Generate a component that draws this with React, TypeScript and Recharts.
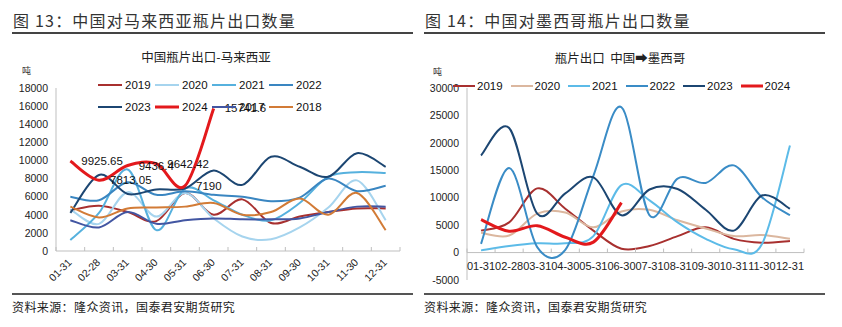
import React from "react";
import { LineChart, Line, XAxis, YAxis, Legend, LabelList, ReferenceLine } from "recharts";

const months = ["01-31", "02-28", "03-31", "04-30", "05-31", "06-30", "07-31", "08-31", "09-30", "10-31", "11-30", "12-31"];

// 图13 马来西亚（吨）
const my2019 = [4500, 5000, 4300, 3300, 6400, 4000, 5700, 3100, 3800, 4300, 4700, 4700];
const my2020 = [4600, 3000, 6500, 3800, 6400, 3600, 1600, 1300, 2600, 4800, 7800, 3400];
const my2021 = [1200, 4200, 9000, 2300, 6900, 5600, 4000, 3400, 5300, 8200, 8700, 8600];
const my2022 = [6000, 5600, 7600, 6200, 6600, 6200, 6000, 5500, 5900, 8000, 6600, 7200];
const my2023 = [4200, 8400, 6300, 6800, 6900, 8900, 7300, 10400, 9300, 8200, 10800, 9300];
const my2024 = [9925.65, 7813.05, 9436.4, 9642.42, 7190, 15741.6];
const my2017 = [3400, 2600, 4300, 3000, 3400, 3600, 3500, 3500, 3600, 4300, 4900, 4900];
const my2018 = [4900, 3700, 4700, 4800, 4900, 5300, 4000, 4300, 5800, 4000, 6400, 2300];
const myTicks = [0, 2000, 4000, 6000, 8000, 10000, 12000, 14000, 16000, 18000];

// 图14 墨西哥（吨）
const mx2019 = [4000, 5500, 11700, 8000, 4000, 700, 1200, 3000, 4600, 2500, 1800, 2100];
const mx2020 = [3600, 3100, 7100, 7300, 4600, 7500, 7800, 5900, 4400, 3000, 3200, 2500];
const mx2021 = [400, 1200, 1700, 1700, 3000, 12300, 9500, 5500, 2500, 600, 1500, 19500];
const mx2022 = [1600, 15400, 1000, 500, 14000, 26500, 6800, 13500, 12700, 15900, 10100, 6800];
const mx2023 = [17700, 22700, 7100, 10800, 13700, 6800, 11500, 11600, 7800, 4000, 10400, 8000];
const mx2024 = [6000, 3900, 4900, 2800, 1900, 9100];
const mxTicks = [-5000, 0, 5000, 10000, 15000, 20000, 25000, 30000];

const myYears = ["2019", "2020", "2021", "2022", "2023", "2024", "2017", "2018"];
const mxYears = ["2019", "2020", "2021", "2022", "2023", "2024"];

const myColors: Record<string, string> = {
  "2019": "#a8302f", "2020": "#a6d4ee", "2021": "#56b1de", "2022": "#3a86c1",
  "2023": "#1c4672", "2024": "#e3191c", "2017": "#4256a2", "2018": "#d27b36",
};
const mxColors: Record<string, string> = {
  "2019": "#a8302f", "2020": "#dbb79f", "2021": "#5cbbe8", "2022": "#3a8cc6",
  "2023": "#1c4672", "2024": "#e3191c",
};

const myRows = months.map((m, i) => ({
  month: m,
  y2019: my2019[i], y2020: my2020[i], y2021: my2021[i], y2022: my2022[i],
  y2023: my2023[i], y2024: my2024[i], y2017: my2017[i], y2018: my2018[i],
}));
const mxRows = months.map((m, i) => ({
  month: m,
  y2019: mx2019[i], y2020: mx2020[i], y2021: mx2021[i], y2022: mx2022[i],
  y2023: mx2023[i], y2024: mx2024[i],
}));

const NUM_FONT = "'Liberation Sans', Arial, sans-serif";
const CJK_FONT = "'Noto Sans CJK SC', 'Noto Sans', sans-serif";
const AXIS = "#bfbfbf";

// excel-like smoothed line (catmull-rom)
function excelSmooth(context: any) {
  let pts: number[][] = [];
  return {
    areaStart() {},
    areaEnd() {},
    lineStart() { pts = []; },
    point(x: number, y: number) { pts.push([+x, +y]); },
    lineEnd() {
      if (!pts.length) return;
      context.moveTo(pts[0][0], pts[0][1]);
      if (pts.length === 1) { context.lineTo(pts[0][0], pts[0][1]); return; }
      for (let i = 0; i < pts.length - 1; i++) {
        const p0 = pts[i - 1] || pts[i];
        const p1 = pts[i];
        const p2 = pts[i + 1];
        const p3 = pts[i + 2] || p2;
        context.bezierCurveTo(
          p1[0] + (p2[0] - p0[0]) / 6, p1[1] + (p2[1] - p0[1]) / 6,
          p2[0] - (p3[0] - p1[0]) / 6, p2[1] - (p3[1] - p1[1]) / 6,
          p2[0], p2[1]
        );
      }
    },
  };
}

// left chart geometry
const MY_W = 420, MY_H = 327;
const MY_M = { top: 88, right: 20, bottom: 36, left: 6 };
const MY_YW = 50, MY_XH = 40;
const MY_PW = MY_W - MY_M.left - MY_M.right - MY_YW;
const MY_BAND = MY_PW / months.length;

// right chart geometry
const MX_W = 422, MX_H = 327;
const MX_M = { top: 88, right: 38, bottom: 27, left: 2 };
const MX_YW = 45, MX_XH = 20;
const MX_PW = MX_W - MX_M.left - MX_M.right - MX_YW;
const MX_PH = MX_H - MX_M.top - MX_M.bottom - MX_XH;
const MX_BAND = MX_PW / months.length;

function MyTick(props: any) {
  const { x, y, payload, index } = props;
  const band = MY_BAND;
  const tx = x + 2, ty = y + 12;
  return (
    <g>
      <line x1={x - band / 2} y1={y - 4} x2={x - band / 2} y2={y} stroke={AXIS} />
      {index === months.length - 1 && <line x1={x + band / 2} y1={y - 4} x2={x + band / 2} y2={y} stroke={AXIS} />}
      <text x={tx} y={ty} transform={`rotate(-45 ${tx} ${ty})`} textAnchor="end" fontSize={10.5} fill="#222" fontFamily={NUM_FONT}>
        {payload.value}
      </text>
    </g>
  );
}

function MxTick(props: any) {
  const { x, y, payload, index } = props;
  const band = MX_BAND;
  const zeroY = y - (MX_PH * 5000) / 35000;
  return (
    <g>
      <line x1={x - band / 2} y1={zeroY - 4} x2={x - band / 2} y2={zeroY} stroke={AXIS} />
      {index === months.length - 1 && <line x1={x + band / 2} y1={zeroY - 4} x2={x + band / 2} y2={zeroY} stroke={AXIS} />}
      <text x={x} y={zeroY + 17} textAnchor="middle" fontSize={11} fill="#222" fontFamily={NUM_FONT}>
        {payload.value}
      </text>
    </g>
  );
}

function legendContent(years: string[], colors: Record<string, string>, itemW: number, lineW: number) {
  return () => (
    <div style={{ display: "flex", flexWrap: "wrap", width: itemW * 4 + 4 }}>
      {years.map((yr) => (
        <div key={yr} style={{ width: itemW, height: 22, display: "flex", alignItems: "center" }}>
          <svg width={lineW} height={4} style={{ marginRight: 3 }}>
            <line x1={0} y1={2} x2={lineW} y2={2} stroke={colors[yr]} strokeWidth={yr === "2024" ? 3 : 2} />
          </svg>
          <span style={{ fontSize: 11.5, fontFamily: NUM_FONT, color: "#111" }}>{yr}</span>
        </div>
      ))}
    </div>
  );
}

function mxLegend() {
  return (
    <div style={{ display: "flex", width: 360 }}>
      {mxYears.map((yr) => (
        <div key={yr} style={{ width: 57.5, height: 22, display: "flex", alignItems: "center" }}>
          <svg width={22} height={4} style={{ marginRight: 2 }}>
            <line x1={0} y1={2} x2={22} y2={2} stroke={mxColors[yr]} strokeWidth={yr === "2024" ? 3 : 2} />
          </svg>
          <span style={{ fontSize: 11.5, fontFamily: NUM_FONT, color: "#111" }}>{yr}</span>
        </div>
      ))}
    </div>
  );
}

function renderLabel(props: any) {
  const { x, y, value } = props;
  if (value === undefined || value === null) return null;
  return (
    <text x={x + 11} y={y} dy="0.35em" fontSize={11.5} fill="#111" fontFamily={NUM_FONT}>
      {String(value)}
    </text>
  );
}

const tickStyle = { fontSize: 10.5, fill: "#222", fontFamily: NUM_FONT };

export default function App() {
  return (
    <div style={{ position: "absolute", left: 0, top: 0, width: 842, height: 327, background: "#fff", overflow: "hidden", fontFamily: CJK_FONT }}>
      {/* headings */}
      <div style={{ position: "absolute", left: 13, top: 8, fontSize: 16, letterSpacing: 1.2, color: "#333", whiteSpace: "nowrap" }}>
        图 13：中国对马来西亚瓶片出口数量
      </div>
      <div style={{ position: "absolute", left: 12, top: 32, width: 401, height: 2, background: "#444" }} />
      <div style={{ position: "absolute", left: 425, top: 8, fontSize: 16, letterSpacing: 1.2, color: "#333", whiteSpace: "nowrap" }}>
        图 14：中国对墨西哥瓶片出口数量
      </div>
      <div style={{ position: "absolute", left: 424, top: 32, width: 401, height: 2, background: "#444" }} />

      {/* left chart */}
      <div style={{ position: "absolute", left: 0, top: 0, width: MY_W, height: MY_H }}>
        <div style={{ position: "absolute", left: 0, width: 412, top: 47, textAlign: "center", fontSize: 12.5, color: "#222" }}>
          中国瓶片出口-马来西亚
        </div>
        <div style={{ position: "absolute", left: 22, top: 64, fontSize: 9, color: "#333" }}>吨</div>
        <LineChart width={MY_W} height={MY_H} data={myRows} margin={MY_M}>
          <XAxis dataKey="month" interval={0} height={MY_XH} padding={{ left: MY_BAND / 2, right: MY_BAND / 2 }} tickSize={0} tickMargin={0} tickLine={false} axisLine={{ stroke: AXIS }} tick={<MyTick />} />
          <YAxis width={MY_YW} domain={[0, 18000]} ticks={myTicks} interval={0} tickLine={false} axisLine={{ stroke: AXIS }} tick={tickStyle} />
          <Legend layout="horizontal" verticalAlign="middle" align="center" content={legendContent(myYears, myColors, 57, 24)} wrapperStyle={{ position: "absolute", left: 98, top: 74, width: 240, height: 44 }} />
          {myYears.filter((y) => y !== "2024").map((yr) => (
            <Line key={yr} dataKey={`y${yr}`} type={excelSmooth as any} stroke={myColors[yr]} strokeWidth={2} dot={false} isAnimationActive={false} />
          ))}
          <Line dataKey="y2024" type={excelSmooth as any} stroke={myColors["2024"]} strokeWidth={3} dot={false} isAnimationActive={false}>
            <LabelList dataKey="y2024" content={renderLabel} />
          </Line>
        </LineChart>
      </div>

      {/* right chart */}
      <div style={{ position: "absolute", left: 420, top: 0, width: MX_W, height: MX_H }}>
        <div style={{ position: "absolute", left: 0, width: 400, top: 48, textAlign: "center", fontSize: 12.5, color: "#222", whiteSpace: "pre" }}>
          {"瓶片出口  中国➡墨西哥"}
        </div>
        <div style={{ position: "absolute", left: 13, top: 65, fontSize: 9, color: "#333" }}>吨</div>
        <LineChart width={MX_W} height={MX_H} data={mxRows} margin={MX_M}>
          <XAxis dataKey="month" interval={0} height={MX_XH} padding={{ left: MX_BAND / 2, right: MX_BAND / 2 }} tickSize={0} tickMargin={0} tickLine={false} axisLine={false} tick={<MxTick />} />
          <YAxis width={MX_YW} domain={[-5000, 30000]} ticks={mxTicks} interval={0} tickLine={false} axisLine={{ stroke: AXIS }} tick={tickStyle} />
          <ReferenceLine y={0} stroke={AXIS} />
          <Legend layout="horizontal" verticalAlign="middle" align="center" content={mxLegend} wrapperStyle={{ position: "absolute", left: 33, top: 75, width: 360, height: 22 }} />
          {mxYears.map((yr) => (
            <Line key={yr} dataKey={`y${yr}`} type={excelSmooth as any} stroke={mxColors[yr]} strokeWidth={yr === "2024" ? 3 : 2} dot={false} isAnimationActive={false} />
          ))}
        </LineChart>
      </div>

      {/* sources */}
      <div style={{ position: "absolute", left: 12, top: 293, width: 401, height: 1.5, background: "#555" }} />
      <div style={{ position: "absolute", left: 424, top: 293, width: 401, height: 1.5, background: "#555" }} />
      <div style={{ position: "absolute", left: 12, top: 298, fontSize: 12, letterSpacing: 0.4, color: "#222", whiteSpace: "nowrap" }}>
        资料来源：隆众资讯，国泰君安期货研究
      </div>
      <div style={{ position: "absolute", left: 424, top: 298, fontSize: 12, letterSpacing: 0.4, color: "#222", whiteSpace: "nowrap" }}>
        资料来源：隆众资讯，国泰君安期货研究
      </div>
    </div>
  );
}
